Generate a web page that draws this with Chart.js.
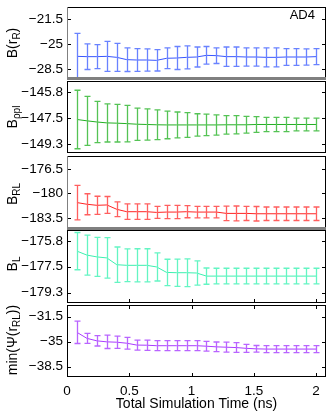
<!DOCTYPE html>
<html>
<head>
<meta charset="utf-8">
<script src="https://cdn.jsdelivr.net/npm/chart.js@4.4.1/dist/chart.umd.min.js"></script>
<style>
body { margin: 0; background: #fff; }
#fig { position: relative; width: 332px; height: 418px; overflow: hidden; font-family: 'Liberation Sans', Arial, sans-serif; color: #000; }
.panel { position: absolute; left: 0; }
.ylab { position: absolute; font-size: 14px; line-height: 1; white-space: nowrap; transform: translate(-50%, -50%) rotate(-90deg); }
.ylab sub { font-size: 10px; vertical-align: -3px; line-height: 1; }
#tag { position: absolute; right: 17px; top: 7px; font-size: 13px; }
</style>
</head>
<body>
<div id="fig">
  <canvas id="chart_rR" class="panel" width="332" height="73" style="top:7px"></canvas>
  <canvas id="chart_rhopl" class="panel" width="332" height="72" style="top:81px"></canvas>
  <canvas id="chart_RL" class="panel" width="332" height="74" style="top:156px"></canvas>
  <canvas id="chart_L" class="panel" width="332" height="73" style="top:230px"></canvas>
  <canvas id="chart_psi" class="panel" width="332" height="113" style="top:305px"></canvas>
  <div class="ylab" style="left:13px; top:43px">B(r<sub>R</sub>)</div>
  <div class="ylab" style="left:13px; top:117px">B<sub>ρpl</sub></div>
  <div class="ylab" style="left:13px; top:194px">B<sub>RL</sub></div>
  <div class="ylab" style="left:13px; top:264px">B<sub>L</sub></div>
  <div class="ylab" style="left:13px; top:340px">min(Ψ(r<sub>RL</sub>))</div>
  <div id="tag">AD4</div>
</div>
<script>
// simulation time of each block (ns)
const times = [0.08, 0.16, 0.24, 0.32, 0.40, 0.48, 0.56, 0.64, 0.72, 0.80, 0.88, 0.96, 1.04,
               1.12, 1.20, 1.28, 1.36, 1.44, 1.52, 1.60, 1.68, 1.76, 1.84, 1.92, 2.00];
const xTickValues = [0, 0.5, 1, 1.5, 2];
const xTickLabels = ['0', '0.5', '1', '1.5', '2'];

const rRMean = [-26.73, -26.77, -26.77, -26.73, -26.87, -27.19, -27.24, -27.24, -27.29, -27.00, -26.96, -26.87, -26.82,
                -26.59, -26.63, -26.77, -26.77, -26.82, -26.82, -26.87, -26.87, -26.82, -26.82, -26.82, -26.77];
const rRErr = [3.22, 1.80, 1.68, 2.10, 1.96, 1.66, 1.59, 1.56, 1.49, 1.45, 1.61, 1.61, 1.40,
               1.24, 1.10, 1.35, 1.35, 1.28, 1.28, 1.33, 1.33, 1.17, 1.17, 1.14, 1.12];
const rRTicks = [-28.5, -25, -21.5];
const rRTickLabels = ['\u221228.5', '\u221225', '\u221221.5'];

const rhoplMean = [-147.59, -147.68, -147.76, -147.82, -147.84, -147.87, -147.91, -147.93, -147.95, -147.96, -147.96, -147.96, -147.96,
                   -147.96, -147.96, -147.95, -147.95, -147.95, -147.93, -147.93, -147.93, -147.93, -147.93, -147.93, -147.93];
const rhoplErr = [1.99, 1.67, 1.41, 1.30, 1.28, 1.24, 1.10, 1.06, 1.01, 0.94, 0.88, 0.84, 0.76,
                  0.73, 0.69, 0.63, 0.62, 0.57, 0.54, 0.49, 0.48, 0.48, 0.43, 0.43, 0.43];
const rhoplTicks = [-149.25, -147.5, -145.75];
const rhoplTickLabels = ['\u2212149.3', '\u2212147.5', '\u2212145.8'];

const rlMean = [-181.29, -181.53, -181.68, -181.63, -182.25, -182.59, -182.59, -182.59, -182.69, -182.64, -182.64, -182.59, -182.64,
                -182.64, -182.64, -182.83, -182.83, -182.83, -182.88, -182.88, -182.88, -182.88, -182.88, -182.88, -182.88];
const rlErr = [2.45, 1.49, 1.29, 1.20, 1.05, 1.10, 1.10, 1.10, 0.86, 0.94, 0.94, 0.86, 0.82,
               0.82, 0.82, 1.03, 1.05, 1.01, 1.03, 0.96, 0.96, 0.96, 0.96, 0.96, 0.96];
const rlTicks = [-183.5, -180, -176.5];
const rlTickLabels = ['\u2212183.5', '\u2212180', '\u2212176.5'];

const lMean = [-176.45, -176.72, -176.84, -176.91, -177.37, -177.41, -177.41, -177.41, -177.52, -177.89, -177.91, -177.91, -177.93,
               -178.14, -178.14, -178.14, -178.14, -178.14, -178.14, -178.14, -178.14, -178.14, -178.14, -178.14, -178.14];
const lErr = [1.26, 1.35, 1.32, 1.37, 1.20, 1.11, 1.12, 1.12, 0.95, 0.89, 0.92, 0.94, 0.82,
              0.55, 0.53, 0.53, 0.53, 0.53, 0.53, 0.53, 0.53, 0.53, 0.53, 0.53, 0.53];
const lTicks = [-179.25, -177.5, -175.75];
const lTickLabels = ['\u2212179.3', '\u2212177.5', '\u2212175.8'];

const psiMean = [-33.69, -34.53, -34.88, -35.02, -35.07, -35.21, -35.47, -35.49, -35.56, -35.56, -35.56, -35.56, -35.56,
                 -35.63, -35.72, -35.77, -35.82, -35.93, -36.00, -36.03, -36.03, -36.03, -36.03, -36.03, -36.03];
const psiErr = [1.56, 0.70, 0.72, 0.93, 0.86, 0.82, 0.70, 0.72, 0.70, 0.70, 0.70, 0.70, 0.70,
                0.68, 0.68, 0.70, 0.68, 0.56, 0.47, 0.49, 0.49, 0.49, 0.49, 0.49, 0.49];
const psiTicks = [-38.5, -35, -31.5];
const psiTickLabels = ['\u221238.5', '\u221235', '\u221231.5'];

const FONT = "'Liberation Sans', Arial, sans-serif";

// vertical error bars with caps, placed through the chart's own scales
const errorBars = {
    id: 'errorBars',
    afterDatasetsDraw(chart, args, opts) {
        const ctx = chart.ctx;
        const area = chart.chartArea;
        const x = chart.scales.x, y = chart.scales.y;
        const pts = chart.data.datasets[0].data;
        ctx.save();
        ctx.beginPath();
        ctx.rect(area.left, area.top, area.right - area.left, area.bottom - area.top);
        ctx.clip();
        ctx.strokeStyle = opts.color;
        ctx.lineWidth = 1.3;
        pts.forEach(function (p, i) {
            const px = Math.round(x.getPixelForValue(p.x)) + 0.5;
            const top = y.getPixelForValue(p.y + opts.errors[i]);
            const bot = y.getPixelForValue(p.y - opts.errors[i]);
            ctx.beginPath();
            ctx.moveTo(px, top); ctx.lineTo(px, bot);
            ctx.moveTo(px - 3, top); ctx.lineTo(px + 3, top);
            ctx.moveTo(px - 3, bot); ctx.lineTo(px + 3, bot);
            ctx.stroke();
        });
        ctx.restore();
    }
};

// matlab style box with inward ticks
const frame = {
    id: 'frame',
    afterDraw(chart, args, o) {
        const ctx = chart.ctx;
        const {left, right, top, bottom} = chart.chartArea;
        const x = chart.scales.x, y = chart.scales.y;
        ctx.save();
        ctx.strokeStyle = '#000';
        ctx.lineWidth = 1;
        ctx.beginPath();
        y.ticks.forEach(function (t) {
            const py = Math.round(y.getPixelForValue(t.value)) + 0.5;
            ctx.moveTo(left, py); ctx.lineTo(left + 4, py);
            ctx.moveTo(right - 4, py); ctx.lineTo(right, py);
        });
        if (o.xTicks) {
            x.ticks.forEach(function (t) {
                const px = Math.round(x.getPixelForValue(t.value)) + 0.5;
                if (px < left + 2) return;
                if (o.xTicks.indexOf('bottom') >= 0) { ctx.moveTo(px, bottom); ctx.lineTo(px, bottom - 4); }
                if (o.xTicks.indexOf('top') >= 0) { ctx.moveTo(px, top); ctx.lineTo(px, top + 4); }
            });
        }
        ctx.stroke();
        ctx.fillStyle = o.top || '#000';
        ctx.fillRect(left, top, right - left, o.topWidth || 1);
        ctx.fillStyle = '#000';
        ctx.fillRect(right - 1, top, 1, bottom - top);
        ctx.fillStyle = o.left || '#000';
        ctx.fillRect(left, top, 1, bottom - top);
        ctx.fillStyle = o.bottom || '#000';
        ctx.fillRect(left, bottom - (o.bottomWidth || 1), right - left, o.bottomWidth || 1);
        ctx.restore();
    }
};

function render_panel(name, means, errs, ticks, tickLabels, yMin, yMax, lineColor, barColor, box, showX) {
    const ctx = document.getElementById('chart_' + name).getContext('2d');
    const points = times.map(function (t, i) {
        return {x: t, y: means[i]};
    });
    return new Chart(ctx, {
        type: 'line',
        data: {
            datasets: [{
                data: points,
                borderColor: lineColor,
                borderWidth: 1,
                pointRadius: 0,
                fill: false,
                tension: 0
            }]
        },
        plugins: [errorBars, frame],
        options: {
            responsive: false,
            animation: false,
            layout: {padding: {left: 0, right: 6, top: 0, bottom: 0}},
            plugins: {
                legend: {display: false},
                tooltip: {enabled: false},
                errorBars: {errors: errs, color: barColor},
                frame: box
            },
            scales: {
                x: {
                    type: 'linear',
                    min: 0,
                    max: 2.08,
                    display: showX,
                    afterBuildTicks: function (s) {
                        s.ticks = xTickValues.map(function (v) { return {value: v}; });
                    },
                    afterFit: function (s) { s.height = showX ? 41 : 0; },
                    grid: {display: false, drawTicks: false},
                    border: {display: false},
                    ticks: {
                        autoSkip: false,
                        maxRotation: 0,
                        padding: 6,
                        color: '#000',
                        font: {family: FONT, size: 13.5},
                        callback: function (v, i) { return xTickLabels[i]; }
                    },
                    title: {
                        display: true,
                        text: 'Total Simulation Time (ns)',
                        color: '#000',
                        font: {family: FONT, size: 14},
                        padding: {top: 0, bottom: 5}
                    }
                },
                y: {
                    min: yMin,
                    max: yMax,
                    afterBuildTicks: function (s) {
                        s.ticks = ticks.map(function (v) { return {value: v}; });
                    },
                    afterFit: function (s) {
                        s.width = 67;
                        s.paddingTop = 0;
                        s.paddingBottom = 0;
                    },
                    grid: {display: false, drawTicks: false},
                    border: {display: false},
                    ticks: {
                        padding: 4,
                        color: '#000',
                        font: {family: FONT, size: 13.5},
                        callback: function (v, i) { return tickLabels[i]; }
                    }
                }
            }
        }
    });
}

render_panel('rR', rRMean, rRErr, rRTicks, rRTickLabels, -30.04, -19.82,
    'rgb(55, 85, 255)', 'rgb(105, 130, 255)', {left: '#808080', bottom: '#808080', bottomWidth: 3}, false);
render_panel('rhopl', rhoplMean, rhoplErr, rhoplTicks, rhoplTickLabels, -149.87, -144.97,
    'rgb(35, 175, 35)', 'rgb(85, 195, 85)', {}, false);
render_panel('RL', rlMean, rlErr, rlTicks, rlTickLabels, -185.19, -174.67,
    'rgb(255, 35, 35)', 'rgb(255, 95, 95)', {left: '#808080', bottom: '#808080', bottomWidth: 3}, false);
render_panel('L', lMean, lErr, lTicks, lTickLabels, -179.96, -175.02,
    'rgb(60, 240, 175)', 'rgb(100, 245, 195)', {xTicks: ['bottom']}, false);
render_panel('psi', psiMean, psiErr, psiTicks, psiTickLabels, -39.94, -29.86,
    'rgb(170, 60, 255)', 'rgb(185, 100, 255)', {xTicks: ['top', 'bottom']}, true);
</script>
</body>
</html>
